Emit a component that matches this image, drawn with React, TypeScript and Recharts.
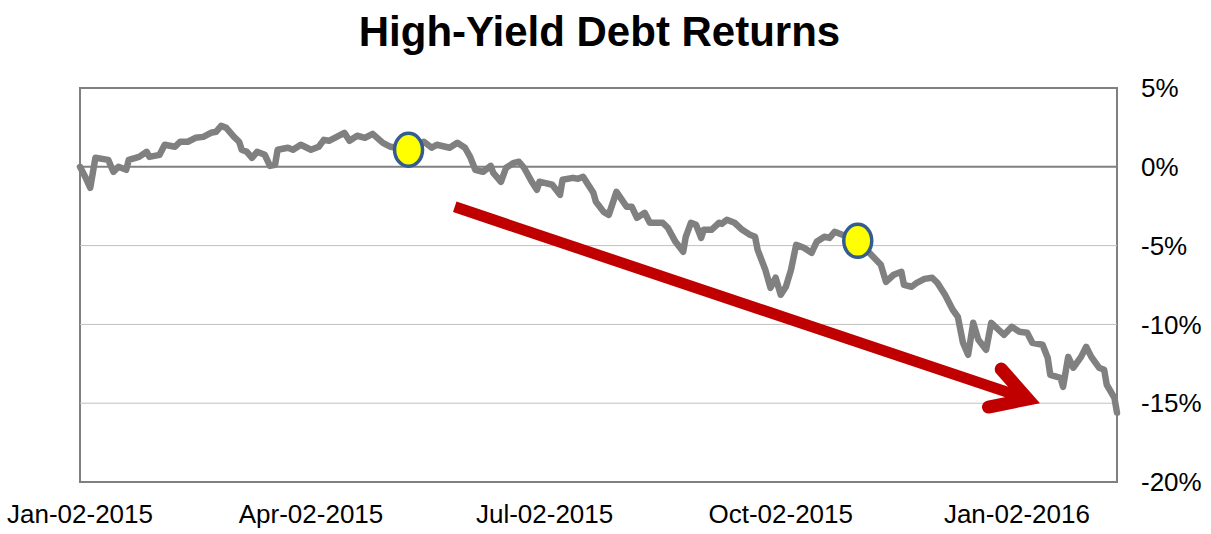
import React from "react";
import {
  LineChart,
  Line,
  XAxis,
  YAxis,
  CartesianGrid,
  ReferenceLine,
  ReferenceDot,
  ReferenceArea,
} from "recharts";

// Days since Jan-02-2015
const days = [0,2,4,6,11,13,15,18,19,23,26,27,31,33,37,39,42,45,48,51,53,55,57,60,62,63,65,67,69,72,74,76,77,81,83,86,90,93,95,97,100,103,105,108,111,114,118,121,128,134,137,139,144,147,150,152,154,157,160,161,164,166,169,171,173,176,178,179,181,184,187,188,192,194,196,198,200,201,204,206,209,213,215,217,220,222,227,229,232,235,236,238,240,242,243,246,249,250,252,255,258,261,263,264,267,269,271,273,275,277,279,282,285,287,290,292,294,297,303,309,312,314,317,320,321,324,326,329,332,334,337,340,342,344,346,348,350,353,355,360,363,366,369,371,375,377,378,382,383,385,387,390,392,394,397,399,400,403,404];

// Cumulative return, %
const returns = [0.0,-0.63,-1.33,0.57,0.44,-0.32,0.0,-0.19,0.44,0.63,0.95,0.63,0.76,1.40,1.27,1.59,1.59,1.84,1.90,2.16,2.22,2.60,2.47,1.90,1.59,1.08,0.95,0.57,0.95,0.76,0.06,0.13,1.08,1.21,1.08,1.40,1.08,1.27,1.71,1.65,1.90,2.16,1.65,1.97,1.84,2.09,1.52,1.27,1.08,1.59,1.21,1.40,1.21,1.52,1.21,0.63,-0.19,-0.32,0.06,-0.38,-0.95,-0.06,0.25,0.32,-0.06,-0.95,-1.46,-0.95,-1.02,-1.14,-1.78,-0.82,-0.70,-0.76,-0.63,-1.14,-1.65,-2.22,-2.86,-3.05,-1.59,-2.54,-2.54,-3.24,-2.92,-3.55,-3.55,-3.87,-4.76,-5.39,-4.44,-3.55,-3.68,-4.51,-4.00,-4.00,-3.55,-3.62,-3.36,-3.55,-4.00,-4.31,-4.44,-5.27,-6.54,-7.68,-7.04,-8.12,-7.61,-6.54,-4.95,-5.14,-5.46,-4.76,-4.44,-4.51,-4.12,-4.31,-4.70,-5.71,-6.22,-7.30,-6.85,-6.66,-7.49,-7.61,-7.36,-7.11,-7.04,-7.36,-8.12,-9.07,-9.52,-11.17,-11.93,-9.90,-10.98,-11.61,-9.90,-10.66,-10.15,-10.47,-10.53,-11.17,-11.29,-12.12,-13.20,-13.39,-13.96,-12.06,-12.75,-12.06,-11.42,-12.06,-12.75,-12.88,-13.83,-14.66,-15.61];

const xTickDays = [0, 90, 181, 273, 365];
const xTickLabels = ["Jan-02-2015", "Apr-02-2015", "Jul-02-2015", "Oct-02-2015", "Jan-02-2016"];
const yTicks = [5, 0, -5, -10, -15, -20];
const gridLevels = [-5, -10, -15];

const markerDays = [128, 303];
const arrowStart = { day: 146, value: -2.54 };
const arrowEnd = { day: 374, value: -15.0 };

const data = days.map((d, i) => ({ day: d, value: returns[i] }));
const valueAt = (d: number) => returns[days.indexOf(d)];

const FONT = '"Liberation Sans", Arial, sans-serif';

const ArrowShape = (props: any) => {
  const { x1, y1, x2, y2 } = props;
  const dx = x2 - x1;
  const dy = y2 - y1;
  const L = Math.sqrt(dx * dx + dy * dy) || 1;
  const ux = dx / L;
  const uy = dy / L;
  const headW = 13;
  const half = (30 * Math.PI) / 180;
  const back = headW / 2 / Math.sin(half);
  const vx = x2 - back * ux;
  const vy = y2 - back * uy;
  const ang = Math.atan2(-uy, -ux);
  const len = 40;
  const ax = vx + len * Math.cos(ang + half);
  const ay = vy + len * Math.sin(ang + half);
  const bx = vx + len * Math.cos(ang - half);
  const by = vy + len * Math.sin(ang - half);
  return (
    <g>
      <line x1={x1} y1={y1} x2={vx} y2={vy} stroke="#C00000" strokeWidth={11} strokeLinecap="butt" />
      <polyline
        points={`${ax},${ay} ${vx},${vy} ${bx},${by}`}
        fill="none"
        stroke="#C00000"
        strokeWidth={headW}
        strokeLinecap="round"
        strokeLinejoin="miter"
        strokeMiterlimit={10}
      />
    </g>
  );
};

const MarkerShape = (props: any) => {
  const { cx, cy } = props;
  return <ellipse cx={cx} cy={cy} rx={14} ry={16.5} fill="#FFFF00" stroke="#355C8E" strokeWidth={3.5} />;
};

export default function App() {
  return (
    <div style={{ position: "absolute", left: 0, top: 0, width: 1211, height: 534, background: "#fff" }}>
      <div
        style={{
          position: "absolute",
          left: 0,
          top: 11,
          width: 1199,
          textAlign: "center",
          fontFamily: FONT,
          fontWeight: "bold",
          fontSize: 42,
          lineHeight: "42px",
          color: "#000",
        }}
      >
        High-Yield Debt Returns
      </div>
      <LineChart
        width={1211}
        height={534}
        data={data}
        margin={{ top: 88, right: 0, left: 80, bottom: 0 }}
        style={{ position: "absolute", left: 0, top: 0 }}
      >
        <CartesianGrid horizontal={false} vertical={false} />
        <XAxis
          dataKey="day"
          type="number"
          domain={[0, 404]}
          ticks={xTickDays}
          tickFormatter={(v: number) => xTickLabels[xTickDays.indexOf(v)] ?? ""}
          height={52}
          axisLine={false}
          tickLine={false}
          tickSize={0}
          tickMargin={23}
          interval={0}
          tick={{ fill: "#000", fontSize: 26, fontFamily: FONT }}
        />
        <YAxis
          orientation="right"
          type="number"
          domain={[-20, 5]}
          ticks={yTicks}
          tickFormatter={(v: number) => `${v}%`}
          width={94}
          axisLine={false}
          tickLine={false}
          tickSize={0}
          tickMargin={24}
          interval={0}
          tick={{ fill: "#000", fontSize: 26, fontFamily: FONT, textAnchor: "start" }}
        />
        {gridLevels.map((g) => (
          <ReferenceLine key={g} y={g} stroke="#C0C0C0" strokeWidth={1} />
        ))}
        <ReferenceLine y={0} stroke="#808080" strokeWidth={2} />
        <ReferenceArea
          x1={0}
          x2={404}
          y1={-20}
          y2={5}
          fill="none"
          fillOpacity={0}
          stroke="#808080"
          strokeWidth={2}
          ifOverflow="visible"
        />
        <Line
          type="linear"
          dataKey="value"
          stroke="#808080"
          strokeWidth={6.5}
          strokeLinejoin="round"
          strokeLinecap="round"
          dot={false}
          activeDot={false}
          isAnimationActive={false}
        />
        {markerDays.map((d) => (
          <ReferenceDot key={d} x={d} y={valueAt(d)} r={14} shape={MarkerShape} ifOverflow="visible" />
        ))}
        <ReferenceLine
          segment={[
            { x: arrowStart.day, y: arrowStart.value },
            { x: arrowEnd.day, y: arrowEnd.value },
          ]}
          shape={ArrowShape}
          ifOverflow="visible"
        />
      </LineChart>
    </div>
  );
}
